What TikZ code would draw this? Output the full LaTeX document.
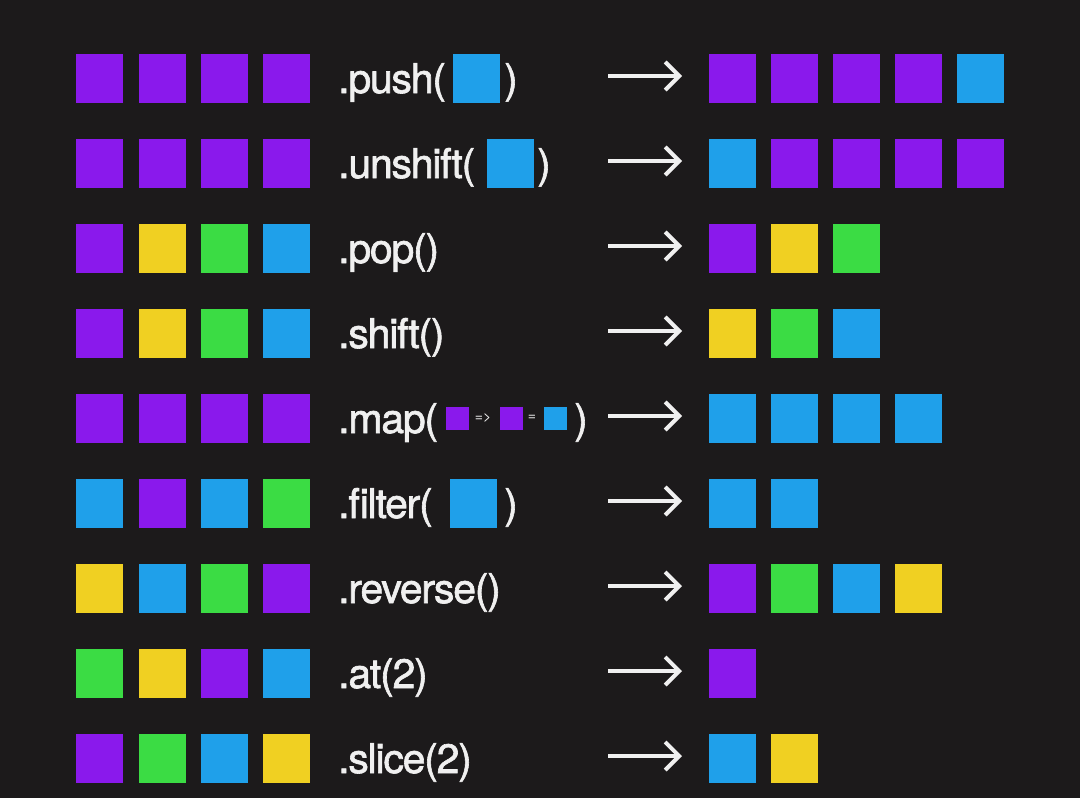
\documentclass[tikz,border=0pt]{standalone}
\usepackage{fontspec}
\setmainfont{TeX Gyre Heros}
\newfontfamily\opfont{TeX Gyre Heros}[BoldFont=TeX Gyre Heros,BoldFeatures={FakeBold=1.5},LetterSpace=-3]
\usetikzlibrary{positioning,arrows.meta}
\definecolor{bgc}{HTML}{1C1A1B}
\definecolor{pur}{HTML}{8A19EC}
\definecolor{yel}{HTML}{F0D022}
\definecolor{grn}{HTML}{3BDC44}
\definecolor{blu}{HTML}{1FA0EA}
\definecolor{txt}{HTML}{F0F0F0}

\begin{document}
\begin{tikzpicture}[x=1pt,y=-1pt,
    sq/.style={minimum width=47pt,minimum height=49pt,inner sep=0pt},
    pu/.style={sq,fill=pur}, ye/.style={sq,fill=yel},
    gr/.style={sq,fill=grn}, bl/.style={sq,fill=blu},
    mini/.style={minimum size=23pt,inner sep=0pt},
    tiny/.style={text=txt,font=\fontsize{14}{14}\selectfont,inner sep=0pt},
    op/.style={text=txt,anchor=base west,inner sep=0pt,font=\opfont\bfseries\fontsize{41}{41}\selectfont},
    arr/.style={draw=txt,line width=4pt,-{Straight Barb[length=14pt,width=28pt]}}]
        \fill[bgc] (0,0) rectangle (1080,798);
        \useasboundingbox (0,0) rectangle (1080,798);
        % push
        \node[pu] (a1) at (99,78) {};
        \node[pu] (b1) at (162,78) {};
        \node[pu] (c1) at (224,78) {};
        \node[pu] (d1) at (286,78) {};
        \node[op] (push) at (338,93) {.push(};
        \node[bl] (pushv) at (476,78) {};
        \node[op] (pushc) at (504,93) {)};
        \node[pu] (p1) at (732,78) {};
        \node[pu] (q1) at (794,78) {};
        \node[pu] (r1) at (856,78) {};
        \node[pu] (s1) at (918,78) {};
        \node[bl] (t1) at (980,78) {};
        % unshift
        \node[pu] (a2) at (99,163) {};
        \node[pu] (b2) at (162,163) {};
        \node[pu] (c2) at (224,163) {};
        \node[pu] (d2) at (286,163) {};
        \node[op] (unshift) at (338,178) {.unshift(};
        \node[bl] (unshiftv) at (510,163) {};
        \node[op] (unshiftc) at (537,178) {)};
        \node[bl] (p2) at (732,163) {};
        \node[pu] (q2) at (794,163) {};
        \node[pu] (r2) at (856,163) {};
        \node[pu] (s2) at (918,163) {};
        \node[pu] (t2) at (980,163) {};
        % pop
        \node[pu] (a3) at (99,248) {};
        \node[ye] (b3) at (162,248) {};
        \node[gr] (c3) at (224,248) {};
        \node[bl] (d3) at (286,248) {};
        \node[op] (pop) at (338,263) {.pop()};
        \node[pu] (p3) at (732,248) {};
        \node[ye] (q3) at (794,248) {};
        \node[gr] (r3) at (856,248) {};
        % shift
        \node[pu] (a4) at (99,333) {};
        \node[ye] (b4) at (162,333) {};
        \node[gr] (c4) at (224,333) {};
        \node[bl] (d4) at (286,333) {};
        \node[op] (shift) at (338,348) {.shift()};
        \node[ye] (p4) at (732,333) {};
        \node[gr] (q4) at (794,333) {};
        \node[bl] (r4) at (856,333) {};
        % map
        \node[pu] (a5) at (99,418) {};
        \node[pu] (b5) at (162,418) {};
        \node[pu] (c5) at (224,418) {};
        \node[pu] (d5) at (286,418) {};
        \node[op] (map) at (338,433) {.map(};
        \node[mini,fill=pur] (mapx) at (457,418) {};
        \node[tiny] (mapto) at (483,418) {=>};
        \node[mini,fill=pur] (mapy) at (511,418) {};
        \node[tiny] (mapeq) at (532,418) {=};
        \node[mini,fill=blu] (mapz) at (555,418) {};
        \node[op] (mapc) at (574,433) {)};
        \node[bl] (p5) at (732,418) {};
        \node[bl] (q5) at (794,418) {};
        \node[bl] (r5) at (856,418) {};
        \node[bl] (s5) at (918,418) {};
        % filter
        \node[bl] (a6) at (99,503) {};
        \node[pu] (b6) at (162,503) {};
        \node[bl] (c6) at (224,503) {};
        \node[gr] (d6) at (286,503) {};
        \node[op] (filter) at (338,518) {.filter(};
        \node[bl] (filterv) at (473,503) {};
        \node[op] (filterc) at (504,518) {)};
        \node[bl] (p6) at (732,503) {};
        \node[bl] (q6) at (794,503) {};
        % reverse
        \node[ye] (a7) at (99,588) {};
        \node[bl] (b7) at (162,588) {};
        \node[gr] (c7) at (224,588) {};
        \node[pu] (d7) at (286,588) {};
        \node[op] (reverse) at (338,603) {.reverse()};
        \node[pu] (p7) at (732,588) {};
        \node[gr] (q7) at (794,588) {};
        \node[bl] (r7) at (856,588) {};
        \node[ye] (s7) at (918,588) {};
        % at
        \node[gr] (a8) at (99,673) {};
        \node[ye] (b8) at (162,673) {};
        \node[pu] (c8) at (224,673) {};
        \node[bl] (d8) at (286,673) {};
        \node[op] (at) at (338,688) {.at(2)};
        \node[pu] (p8) at (732,673) {};
        % slice
        \node[pu] (a9) at (99,758) {};
        \node[gr] (b9) at (162,758) {};
        \node[bl] (c9) at (224,758) {};
        \node[ye] (d9) at (286,758) {};
        \node[op] (slice) at (338,773) {.slice(2)};
        \node[bl] (p9) at (732,758) {};
        \node[ye] (q9) at (794,758) {};
        % arrows
        \coordinate (A1) at (608,76);  \coordinate (B1) at (682,76);
        \coordinate (A2) at (608,161); \coordinate (B2) at (682,161);
        \coordinate (A3) at (608,246); \coordinate (B3) at (682,246);
        \coordinate (A4) at (608,331); \coordinate (B4) at (682,331);
        \coordinate (A5) at (608,416); \coordinate (B5) at (682,416);
        \coordinate (A6) at (608,501); \coordinate (B6) at (682,501);
        \coordinate (A7) at (608,586); \coordinate (B7) at (682,586);
        \coordinate (A8) at (608,671); \coordinate (B8) at (682,671);
        \coordinate (A9) at (608,756); \coordinate (B9) at (682,756);
        \draw[arr] (A1) -- (B1);
        \draw[arr] (A2) -- (B2);
        \draw[arr] (A3) -- (B3);
        \draw[arr] (A4) -- (B4);
        \draw[arr] (A5) -- (B5);
        \draw[arr] (A6) -- (B6);
        \draw[arr] (A7) -- (B7);
        \draw[arr] (A8) -- (B8);
        \draw[arr] (A9) -- (B9);
    \end{tikzpicture}
\end{document}
